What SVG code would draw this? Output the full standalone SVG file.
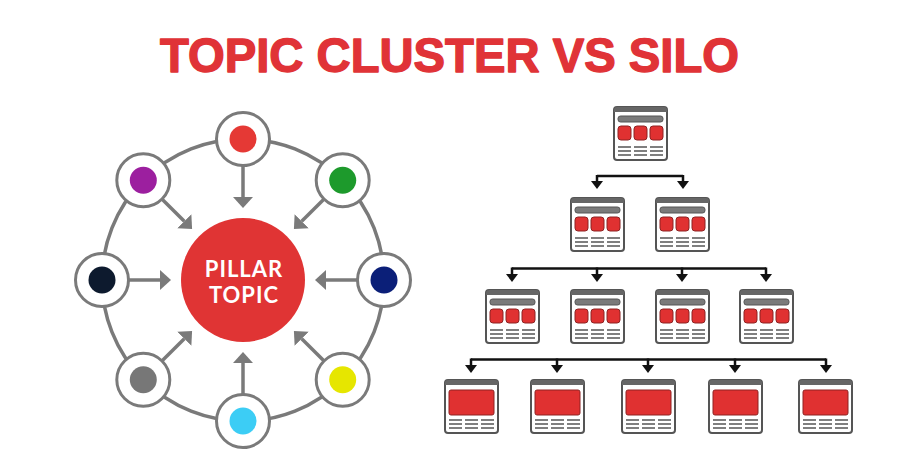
<svg xmlns="http://www.w3.org/2000/svg" xmlns:xlink="http://www.w3.org/1999/xlink" width="900" height="450" viewBox="0 0 900 450">
  <style>
    .title { font-family: "Liberation Sans", Arial, sans-serif; font-weight: bold; font-size: 48px; fill: #e03337; stroke: #e03337; stroke-width: 1.4; stroke-linejoin: round; }
    .pillar { font-family: Lato, "Open Sans", sans-serif; font-weight: bold; font-size: 22px; letter-spacing: 1px; fill: #ffffff; }
    .ring { fill: none; stroke: #7a7a7a; stroke-width: 3.5; }
    .node { fill: #ffffff; stroke: #7a7a7a; stroke-width: 3; }
    .garrow { fill: none; stroke: #7a7a7a; stroke-width: 3.5; marker-end: url(#gHead); }
    .barrow { fill: none; stroke: #111111; stroke-width: 2.5; }
    .drop { marker-end: url(#bHead); }
    .frame { fill: #ffffff; stroke: #555555; stroke-width: 2; }
    .hdr { fill: #666666; }
    .bar { fill: #7a7a7a; stroke: #555555; stroke-width: 1; }
    .red { fill: #e03131; stroke: #8e2323; stroke-width: 1; }
    .txt { stroke: #555555; stroke-width: 1.6; }
  </style>
  <defs>
    <marker id="gHead" viewBox="0 0 11 20" refX="0" refY="10" markerWidth="11" markerHeight="20" markerUnits="userSpaceOnUse" orient="auto">
      <path d="M0,0 L11,10 L0,20 Z" fill="#7a7a7a"/>
    </marker>
    <marker id="bHead" viewBox="0 0 8 12" refX="0" refY="6" markerWidth="8" markerHeight="12" markerUnits="userSpaceOnUse" orient="auto">
      <path d="M0,0 L8,6 L0,12 Z" fill="#111111"/>
    </marker>
    <g id="lines">
      <path class="txt" d="M5,41H18M21,41H34M37,41H50M5,45H18M21,45H34M37,45H50M5,49H18M21,49H34M37,49H50"/>
    </g>
    <g id="pageA">
      <rect class="frame" x="1" y="1" width="53" height="53" rx="3"/>
      <path class="hdr" d="M1,6V4A3,3 0 0 1 4,1H51A3,3 0 0 1 54,4V6Z"/>
      <rect class="bar" x="5" y="10" width="45" height="6" rx="2.5"/>
      <rect class="red" x="5" y="20" width="13" height="14" rx="3"/>
      <rect class="red" x="21" y="20" width="13" height="14" rx="3"/>
      <rect class="red" x="37" y="20" width="13" height="14" rx="3"/>
      <use xlink:href="#lines"/>
    </g>
    <g id="pageB">
      <rect class="frame" x="1" y="1" width="53" height="53" rx="3"/>
      <path class="hdr" d="M1,6V4A3,3 0 0 1 4,1H51A3,3 0 0 1 54,4V6Z"/>
      <rect class="red" x="5" y="11" width="45" height="25" rx="2"/>
      <use xlink:href="#lines"/>
    </g>
  </defs>

  <rect x="0" y="0" width="900" height="450" fill="#ffffff"/>

  <text id="title" class="title" x="160" y="72" textLength="579" lengthAdjust="spacingAndGlyphs">TOPIC CLUSTER VS SILO</text>

  <!-- Topic cluster -->
  <circle class="ring" cx="243" cy="280" r="141"/>

  <g id="connectors-cluster">
    <path class="garrow" d="M243,166 L243,197"/>
    <path class="garrow" d="M243,394 L243,363"/>
    <path class="garrow" d="M129,280 L160,280"/>
    <path class="garrow" d="M357,280 L326,280"/>
    <path class="garrow" d="M162.4,199.4 L184.3,221.3"/>
    <path class="garrow" d="M323.6,199.4 L301.7,221.3"/>
    <path class="garrow" d="M162.4,360.6 L184.3,338.7"/>
    <path class="garrow" d="M323.6,360.6 L301.7,338.7"/>
  </g>

  <g id="pillar">
    <circle cx="243" cy="280" r="62" fill="#e03434"/>
    <text class="pillar" x="244" y="277" text-anchor="middle">PILLAR</text>
    <text class="pillar" x="244" y="303" text-anchor="middle">TOPIC</text>
  </g>

  <g id="n-top"><circle class="node" cx="243" cy="139" r="26.5"/><circle cx="243" cy="139" r="13.5" fill="#e53935"/></g>
  <g id="n-topright"><circle class="node" cx="342.7" cy="180.3" r="26.5"/><circle cx="342.7" cy="180.3" r="13.5" fill="#1d9a2c"/></g>
  <g id="n-right"><circle class="node" cx="384" cy="280" r="26.5"/><circle cx="384" cy="280" r="13.5" fill="#0b1f78"/></g>
  <g id="n-bottomright"><circle class="node" cx="342.7" cy="379.7" r="26.5"/><circle cx="342.7" cy="379.7" r="13.5" fill="#e6e600"/></g>
  <g id="n-bottom"><circle class="node" cx="243" cy="421" r="26.5"/><circle cx="243" cy="421" r="13.5" fill="#3ccdf5"/></g>
  <g id="n-bottomleft"><circle class="node" cx="143.3" cy="379.7" r="26.5"/><circle cx="143.3" cy="379.7" r="13.5" fill="#777777"/></g>
  <g id="n-left"><circle class="node" cx="102" cy="280" r="26.5"/><circle cx="102" cy="280" r="13.5" fill="#0d1a2e"/></g>
  <g id="n-topleft"><circle class="node" cx="143.3" cy="180.3" r="26.5"/><circle cx="143.3" cy="180.3" r="13.5" fill="#9c1f9f"/></g>

  <!-- Silo -->
  <g id="connectors-silo" class="barrow">
    <path d="M597,176 H683"/>
    <path class="drop" d="M597,175 V181"/>
    <path class="drop" d="M683,175 V181"/>
    <path d="M512,268.5 H766"/>
    <path class="drop" d="M512,267.5 V274"/>
    <path class="drop" d="M597,267.5 V274"/>
    <path class="drop" d="M682,267.5 V274"/>
    <path class="drop" d="M766,267.5 V274"/>
    <path d="M471,359.5 H826"/>
    <path class="drop" d="M471,358.5 V365"/>
    <path class="drop" d="M557,358.5 V365"/>
    <path class="drop" d="M648,358.5 V365"/>
    <path class="drop" d="M735,358.5 V365"/>
    <path class="drop" d="M826,358.5 V365"/>
  </g>

  <g id="s1"><use xlink:href="#pageA" x="613" y="106"/></g>
  <g id="s2a"><use xlink:href="#pageA" x="570" y="197"/></g>
  <g id="s2b"><use xlink:href="#pageA" x="655" y="197"/></g>
  <g id="s3a"><use xlink:href="#pageA" x="485" y="289"/></g>
  <g id="s3b"><use xlink:href="#pageA" x="570" y="289"/></g>
  <g id="s3c"><use xlink:href="#pageA" x="655" y="289"/></g>
  <g id="s3d"><use xlink:href="#pageA" x="739" y="289"/></g>
  <g id="s4a"><use xlink:href="#pageB" x="444" y="379"/></g>
  <g id="s4b"><use xlink:href="#pageB" x="530" y="379"/></g>
  <g id="s4c"><use xlink:href="#pageB" x="621" y="379"/></g>
  <g id="s4d"><use xlink:href="#pageB" x="708" y="379"/></g>
  <g id="s4e"><use xlink:href="#pageB" x="798" y="379"/></g>
</svg>
